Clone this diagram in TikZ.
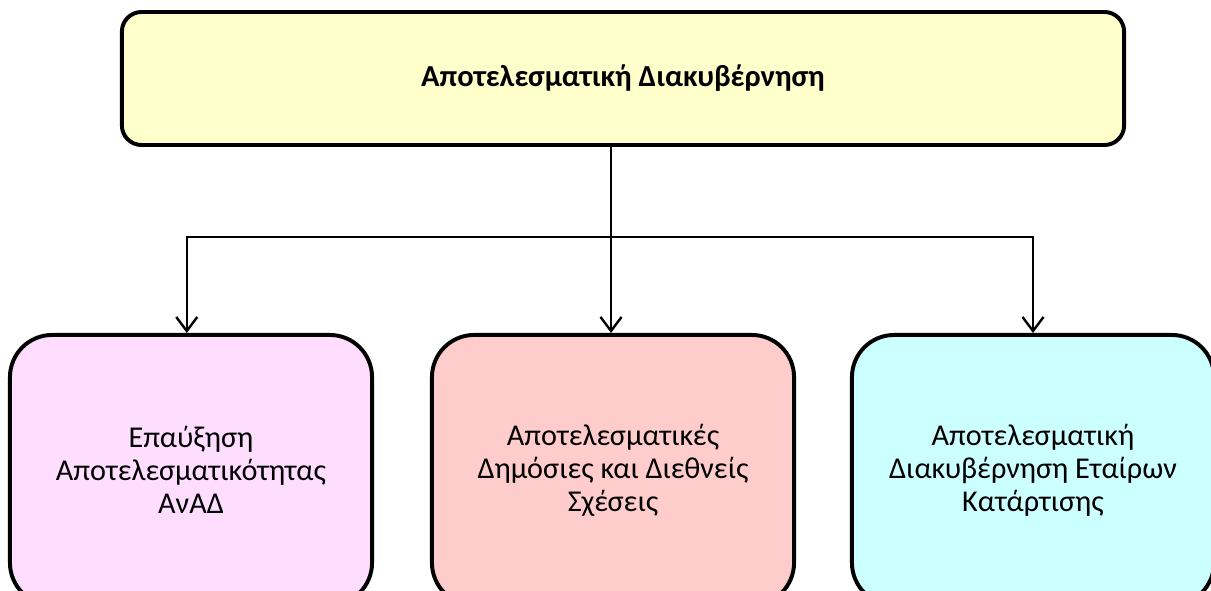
\documentclass[tikz,border=0pt]{standalone}
\usepackage{fontspec}
\setmainfont{Carlito}
\usetikzlibrary{arrows.meta,positioning}
\definecolor{topfill}{HTML}{FFFFCC}
\definecolor{pinkfill}{HTML}{FFDDFF}
\definecolor{rosefill}{HTML}{FFCCCC}
\definecolor{cyanfill}{HTML}{CCFFFF}
\tikzset{box/.style={draw=black,line width=2.8pt,rounded corners=30pt,align=center,inner sep=0pt}}

\begin{document}
\begin{tikzpicture}[x=0.025cm, y=-0.025cm, >={Straight Barb[length=10pt,width=15pt,line width=1.7pt]}, line width=1.7pt]
\useasboundingbox (0,0) rectangle (1211,591);
    \node[box,fill=topfill,rounded corners=14pt,minimum width=25.05cm,minimum height=3.325cm,font=\fontsize{21.7}{24}\selectfont\bfseries] (Gov) at (623,78.5) {Αποτελεσματική Διακυβέρνηση};
    \node[box,fill=pinkfill,minimum width=9.05cm,minimum height=6.75cm,font=\fontsize{21.5}{23.5}\selectfont] (Eff) at (191,470) {Επαύξηση\\Αποτελεσματικότητας\\ΑνΑΔ};
    \node[box,fill=rosefill,minimum width=9.05cm,minimum height=6.75cm,font=\fontsize{21.5}{23.5}\selectfont] (Rel) at (613,470) {Αποτελεσματικές\\Δημόσιες και Διεθνείς\\Σχέσεις};
    \node[box,fill=cyanfill,minimum width=9.05cm,minimum height=6.75cm,font=\fontsize{21.5}{23.5}\selectfont] (Par) at (1033,470) {Αποτελεσματική\\Διακυβέρνηση Εταίρων\\Κατάρτισης};
    \coordinate (hub) at (611,237);

    \draw (Gov.south -| hub) -- (hub);
    \draw[->] (hub) -| ([xshift=-3pt]Eff.north);
    \draw[->] (hub) -- (Rel.north -| hub);
    \draw[->] (hub) -| (Par.north);
\end{tikzpicture}
\end{document}
